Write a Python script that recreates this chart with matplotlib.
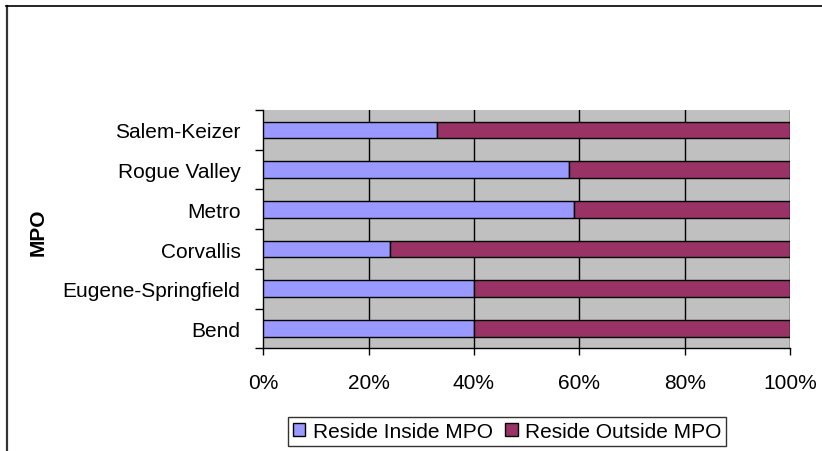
import matplotlib
matplotlib.use("Agg")
import matplotlib.pyplot as plt
from matplotlib.lines import Line2D
import numpy as np

plt.rcParams['font.family'] = ['Liberation Sans', 'DejaVu Sans']

# Share of workers by residence, per MPO (bottom to top)
mpos = ["Bend", "Eugene-Springfield", "Corvallis", "Metro", "Rogue Valley", "Salem-Keizer"]
inside = [0.40, 0.40, 0.24, 0.59, 0.58, 0.33]
outside = [0.60, 0.60, 0.76, 0.41, 0.42, 0.67]
series_names = ["Reside Inside MPO", "Reside Outside MPO"]
x_ticks = [0, 0.2, 0.4, 0.6, 0.8, 1.0]
x_tick_labels = ["0%", "20%", "40%", "60%", "80%", "100%"]

W, H = 822, 452
fig = plt.figure(figsize=(W / 100, H / 100), dpi=100)
ax = fig.add_axes([263.3 / W, 1 - 349.3 / H, (790 - 263.3) / W, (349.3 - 111) / H])
ax.set_facecolor("#C0C0C0")

y = np.arange(len(mpos))
bar_h = 0.42
ax.barh(y, inside, height=bar_h, color="#9999FF", edgecolor="black", linewidth=1.0,
        label=series_names[0], zorder=3)
ax.barh(y, outside, left=inside, height=bar_h, color="#993366", edgecolor="black",
        linewidth=1.0, label=series_names[1], zorder=3)

ax.set_xlim(0, 1)
ax.set_ylim(-0.5, len(mpos) - 0.5)

for xv in x_ticks[1:]:
    ax.axvline(xv, color="black", linewidth=1.0, zorder=1)

ax.set_xticks(x_ticks)
ax.set_xticklabels(x_tick_labels, fontsize=15)
ax.tick_params(axis="x", direction="out", length=5, width=1, pad=13, colors="black")

ax.set_yticks(y)
ax.set_yticklabels(mpos, fontsize=15)
ax.tick_params(axis="y", which="major", length=0, pad=16.5)
ax.set_yticks(np.arange(-0.5, len(mpos)), minor=True)
ax.tick_params(axis="y", which="minor", direction="out", length=5.5, width=1, color="black")

for s in ["top", "right"]:
    ax.spines[s].set_visible(False)
for s in ["left", "bottom"]:
    ax.spines[s].set_color("black")
    ax.spines[s].set_linewidth(1.0)

fig.text(38 / W, 1 - 232 / H, "MPO", rotation=90, fontsize=15, fontweight="bold",
         ha="center", va="center")

leg = fig.legend(loc="center", bbox_to_anchor=(507 / W, 1 - 432.5 / H), ncol=2,
                 fontsize=15, frameon=True, fancybox=False, edgecolor="black",
                 handlelength=0.6, handleheight=0.6, handletextpad=0.35,
                 columnspacing=0.6, borderpad=0.25, borderaxespad=0)
leg.get_frame().set_linewidth(1.0)

# outer chart frame (top and left edges)
fig.add_artist(Line2D([6.5 / W, 6.5 / W], [0, 1 - 6.5 / H], color="#333333", linewidth=1.6,
                      transform=fig.transFigure))
fig.add_artist(Line2D([6 / W, 1], [1 - 6.5 / H, 1 - 6.5 / H], color="black", linewidth=1.2,
                      transform=fig.transFigure))

fig.savefig("out.png", dpi=100, facecolor="white")
